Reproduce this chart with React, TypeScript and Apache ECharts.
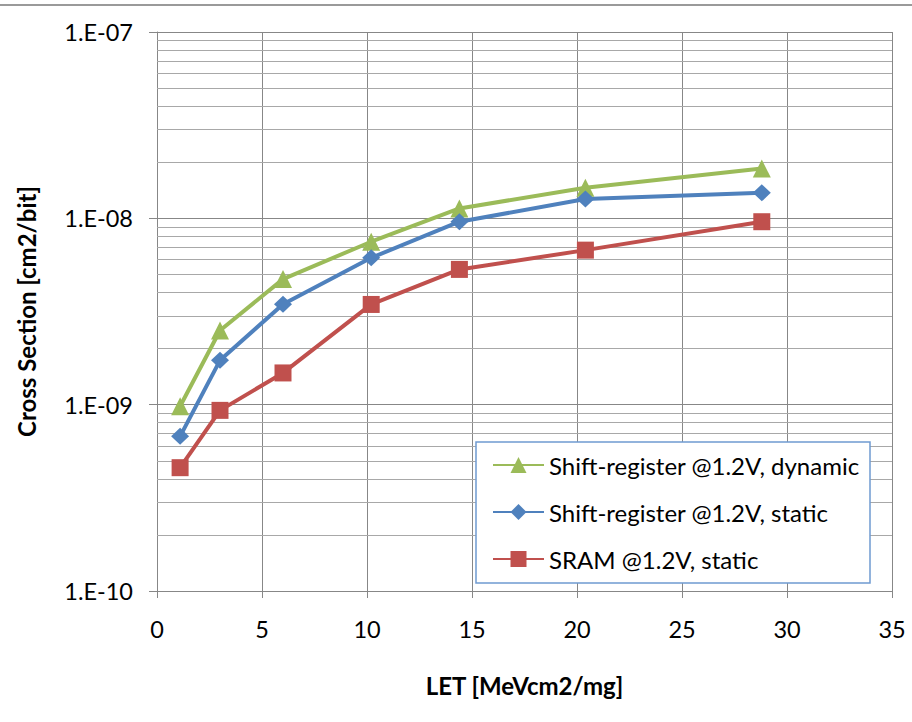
import React, { useEffect, useRef } from "react";
import * as echarts from "echarts";

const letValues = [1.1, 3.0, 6.0, 10.2, 14.4, 20.4, 28.8];
const dynamicShift = [9.8e-10, 2.5e-9, 4.72e-9, 7.49e-9, 1.13e-8, 1.46e-8, 1.85e-8];
const staticShift = [6.76e-10, 1.73e-9, 3.46e-9, 6.14e-9, 9.59e-9, 1.27e-8, 1.37e-8];
const staticSram = [4.59e-10, 9.32e-10, 1.48e-9, 3.45e-9, 5.32e-9, 6.75e-9, 9.59e-9];
const seriesNames = [
  "Shift-register @1.2V, dynamic",
  "Shift-register @1.2V, static",
  "SRAM @1.2V, static",
];
const minorGridValues = [
  2e-10, 3e-10, 4e-10, 5e-10, 6e-10, 7e-10, 8e-10, 9e-10,
  2e-9, 3e-9, 4e-9, 5e-9, 6e-9, 7e-9, 8e-9, 9e-9,
  2e-8, 3e-8, 4e-8, 5e-8, 6e-8, 7e-8, 8e-8, 9e-8,
];

const FONT = "Lato, 'Noto Sans', sans-serif";

export default function App() {
  const ref = useRef<HTMLDivElement>(null);
  useEffect(() => {
    document.body.style.margin = "0";
    const chart = echarts.init(ref.current!, null, { renderer: "svg" });
    const pair = (ys: number[]) => letValues.map((x, i) => [x, ys[i]]);
    chart.setOption({
      animation: false,
      backgroundColor: "#ffffff",
      textStyle: { fontFamily: FONT },
      grid: { left: 157, right: 20, top: 32, bottom: 131, containLabel: false },
      xAxis: {
        type: "value",
        min: 0,
        max: 35,
        interval: 5,
        name: "LET [MeVcm2/mg]",
        nameLocation: "middle",
        nameGap: 82,
        nameTextStyle: { fontSize: 24, fontWeight: "bold", color: "#000", fontFamily: FONT },
        axisLine: { show: true, lineStyle: { color: "#878787", width: 1 } },
        axisTick: { show: true, inside: false, length: 7, lineStyle: { color: "#878787" } },
        axisLabel: { margin: 26, fontSize: 23.5, color: "#000", fontFamily: FONT },
        splitLine: { show: true, lineStyle: { color: "#878787", width: 1 } },
      },
      yAxis: {
        type: "log",
        logBase: 10,
        min: 1e-10,
        max: 1e-7,
        splitNumber: 3,
        name: "Cross Section [cm2/bit]",
        nameLocation: "middle",
        nameGap: 119,
        nameRotate: 90,
        nameTextStyle: { fontSize: 24, fontWeight: "bold", color: "#000", fontFamily: FONT },
        axisLine: { show: true, lineStyle: { color: "#878787", width: 1 } },
        axisTick: { show: true, inside: false, length: 8, lineStyle: { color: "#878787" } },
        axisLabel: {
          margin: 24,
          fontSize: 23.5,
          color: "#000",
          fontFamily: FONT,
          formatter: (v: number) => {
            const e = Math.round(Math.log10(v));
            return "1.E-" + String(-e).padStart(2, "0");
          },
        },
        splitLine: { show: true, lineStyle: { color: "#878787", width: 1 } },
      },
      legend: {
        data: seriesNames,
        orient: "vertical",
        left: 476,
        top: 442,
        padding: [11, 10, 10, 16],
        itemWidth: 51,
        itemHeight: 20,
        itemGap: 23,
        z: 100,
        textStyle: { fontSize: 24, color: "#000", fontFamily: FONT },
      },
      graphic: [
        {
          type: "line",
          z: 100,
          shape: { x1: 0, y1: 5, x2: 912, y2: 5 },
          style: { stroke: "#9a9a9a", lineWidth: 2 },
        },
        {
          type: "rect",
          z: 90,
          shape: { x: 476, y: 442, width: 394, height: 141 },
          style: { fill: "#ffffff", stroke: "#6f9bd1", lineWidth: 1.5 },
        },
      ],
      series: [
        {
          name: seriesNames[0],
          type: "line",
          data: pair(dynamicShift),
          symbol: "triangle",
          symbolSize: 18,
          color: "#9bbb59",
          lineStyle: { width: 4, color: "#9bbb59" },
          z: 5,
        },
        {
          name: seriesNames[1],
          type: "line",
          data: pair(staticShift),
          symbol: "diamond",
          symbolSize: [18, 17],
          color: "#4f81bd",
          lineStyle: { width: 4, color: "#4f81bd" },
          z: 5,
        },
        {
          name: seriesNames[2],
          type: "line",
          data: pair(staticSram),
          symbol: "rect",
          symbolSize: 17,
          color: "#c0504d",
          lineStyle: { width: 4, color: "#c0504d" },
          z: 5,
          markLine: {
            silent: true,
            z: 1,
            precision: 20,
            symbol: ["none", "none"],
            label: { show: false },
            emphasis: { disabled: true },
            lineStyle: { color: "#a8a8a8", type: "solid", width: 1 },
            data: minorGridValues.map((v) => ({ yAxis: v })),
          },
        },
      ],
    });
    return () => chart.dispose();
  }, []);
  return <div ref={ref} style={{ width: 912, height: 722 }} />;
}
